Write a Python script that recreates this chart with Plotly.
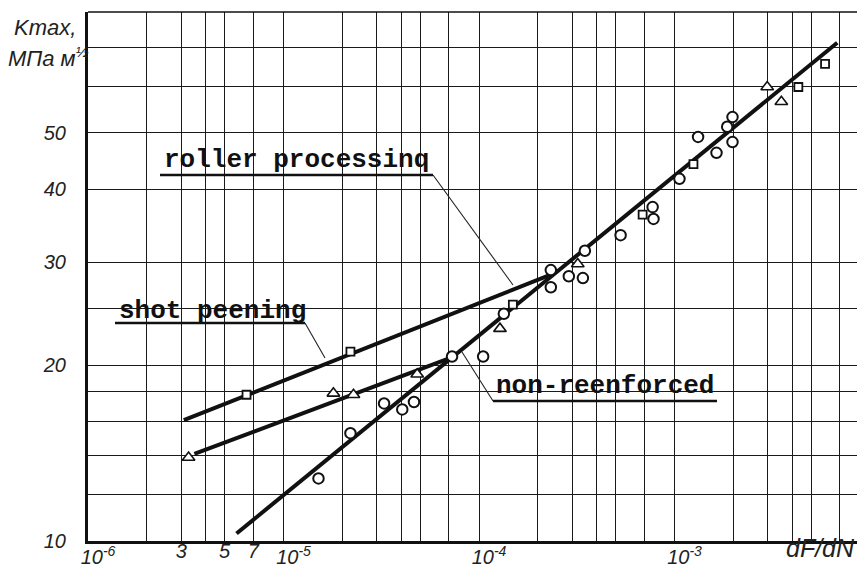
import numpy as np
import plotly.graph_objects as go

# ---------------- data ----------------
# open squares
sq_x = [6.47e-6, 2.20e-5, 1.49e-4, 6.87e-4, 1.25e-3, 4.30e-3, 5.89e-3]
sq_y = [17.8, 21.1, 25.4, 36.2, 44.2, 59.9, 65.6]
# open triangles
tri_x = [3.27e-6, 1.80e-5, 2.28e-5, 4.83e-5, 1.28e-4, 3.20e-4, 2.98e-3, 3.52e-3]
tri_y = [13.9, 17.9, 17.8, 19.3, 23.1, 29.8, 59.9, 56.5]
# open circles
circ_x = [1.51e-5, 2.20e-5, 3.27e-5, 4.05e-5, 4.65e-5, 7.28e-5, 1.05e-4, 1.34e-4,
          2.33e-4, 2.33e-4, 2.88e-4, 3.40e-4, 3.48e-4, 5.30e-4, 7.73e-4, 7.81e-4,
          1.06e-3, 1.32e-3, 1.64e-3, 1.86e-3, 1.98e-3, 1.98e-3]
circ_y = [12.8, 15.3, 17.2, 16.8, 17.3, 20.7, 20.7, 24.5,
          29.1, 27.2, 28.4, 28.2, 31.4, 33.4, 37.3, 35.6,
          41.7, 49.2, 46.2, 51.2, 53.2, 48.2]
# fitted lines
base_x = [5.75e-6, 6.8e-3]
base_y = [10.3, 71.3]
shot_x = [3.09e-6, 2.28e-4]
shot_y = [16.1, 28.5]
roll_x = [3.5e-6, 7.2e-5]
roll_y = [14.1, 20.6]

# axis grid / tick labels
x_grid = [m * 10.0 ** e for e in (-6, -5, -4, -3) for m in (1, 2, 3, 4, 5, 7)]
x_pow_vals = [1e-6, 1e-5, 1e-4, 1e-3]
x_pow_exp = ["-6", "-5", "-4", "-3"]
x_dig_vals = [3e-6, 5e-6, 7e-6]
x_dig_text = ["3", "5", "7"]
y_grid = [10, 12, 14, 16, 18, 20, 25, 30, 40, 50, 60, 70]
y_lab_vals = [10, 20, 30, 40, 50]
y_lab_text = ["10", "20", "30", "40", "50"]

labels = ["roller processinq", "shot peening", "non-reenforced"]

# ---------------- layout geometry ----------------
W, H = 865, 574          # window size
OFF = 8                  # default page margin of the html body
L, R, T, B = 88, 865, 12, 541   # plot area in window pixels


def px(x):
    return (x - L) / (R - L)


def py(y):
    return (B - y) / (B - T)


xr = [-6, -6 + (R - L) / 195.5]
yr = [1, 1 + (B - T) / 584.0]

x_pow_text = ["10<sup>%s</sup>" % e for e in x_pow_exp]
x_minor = [v for v in x_grid if v not in x_pow_vals]
y_minor = [v for v in y_grid if v not in y_lab_vals]

fig = go.Figure()

line_style = dict(color="#111111", width=4)
fig.add_trace(go.Scatter(x=base_x, y=base_y, mode="lines", line=line_style, hoverinfo="skip"))
fig.add_trace(go.Scatter(x=shot_x, y=shot_y, mode="lines", line=line_style, hoverinfo="skip"))
fig.add_trace(go.Scatter(x=roll_x, y=roll_y, mode="lines", line=line_style, hoverinfo="skip"))

fig.add_trace(go.Scatter(x=circ_x, y=circ_y, mode="markers",
                         marker=dict(symbol="circle", size=10.5, color="white",
                                     line=dict(color="#111111", width=2))))
fig.add_trace(go.Scatter(x=sq_x, y=sq_y, mode="markers",
                         marker=dict(symbol="square", size=8, color="white",
                                     line=dict(color="#111111", width=1.8))))
fig.add_trace(go.Scatter(x=tri_x, y=tri_y, mode="markers",
                         marker=dict(symbol="triangle-up", size=11, color="white",
                                     line=dict(color="#111111", width=1.6))))
# invisible trace to host the digit tick axis
fig.add_trace(go.Scatter(x=[x_dig_vals[0]], y=[y_grid[0]], xaxis="x2", mode="markers",
                         marker=dict(opacity=0), hoverinfo="skip"))

tick_font = dict(family="Liberation Sans", size=20, color="#222222", style="italic")
grid_style = dict(gridcolor="#1a1a1a", gridwidth=1.3)

fig.update_layout(
    width=W - OFF, height=H - OFF,
    margin=dict(l=L - OFF, r=0, t=T - OFF, b=H - B),
    paper_bgcolor="white", plot_bgcolor="white",
    showlegend=False,
    xaxis=dict(type="log", range=xr, tickmode="array", tickvals=x_pow_vals,
               ticktext=x_pow_text, showgrid=True, **grid_style,
               minor=dict(tickmode="array", tickvals=x_minor, showgrid=True, ticks="",
                          **grid_style),
               showline=True, linecolor="#111111", linewidth=3,
               ticks="", ticklabelstandoff=-4, ticklabelshift=10,
               tickfont=tick_font, zeroline=False, fixedrange=True, automargin=False),
    xaxis2=dict(type="log", range=xr, overlaying="x", anchor="y", side="bottom",
                tickmode="array", tickvals=x_dig_vals, ticktext=x_dig_text,
                showgrid=False, showline=False, zeroline=False, ticks="",
                ticklabelstandoff=-4, tickfont=tick_font, fixedrange=True, automargin=False),
    yaxis=dict(type="log", range=yr, tickmode="array", tickvals=y_lab_vals,
               ticktext=y_lab_text, showgrid=True, **grid_style,
               minor=dict(tickmode="array", tickvals=y_minor, showgrid=True, ticks="",
                          **grid_style),
               showline=True, linecolor="#111111", linewidth=3,
               ticks="", ticklabelstandoff=15,
               tickfont=tick_font, zeroline=False, fixedrange=True, automargin=False),
)

shapes = []
# top border
shapes.append(dict(type="line", xref="paper", yref="paper", x0=0, x1=1, y0=1, y1=1,
                   line=dict(color="#111111", width=1.6), layer="above"))

# label boxes, underlines and leader lines (window pixel positions)
boxes = [(156, 142, 438, 180), (112, 292, 308, 327), (488, 370, 720, 405)]
underlines = [((160, 175), (433, 175)), ((115, 323), (305, 323)), ((493, 401), (717, 401))]
leaders = [((433, 175), (513, 285)), ((305, 323), (325, 358)), ((493, 401), (462, 352))]
text_pos = [(163, 160), (118, 311), (495, 386)]

for (x0, y0, x1, y1) in boxes:
    shapes.append(dict(type="rect", xref="paper", yref="paper",
                       x0=px(x0), x1=px(x1), y0=py(y1), y1=py(y0),
                       fillcolor="white", line=dict(width=0), layer="between"))
for (a, b) in underlines:
    shapes.append(dict(type="line", xref="paper", yref="paper",
                       x0=px(a[0]), y0=py(a[1]), x1=px(b[0]), y1=py(b[1]),
                       line=dict(color="#111111", width=2.6), layer="above"))
for (a, b) in leaders:
    shapes.append(dict(type="line", xref="paper", yref="paper",
                       x0=px(a[0]), y0=py(a[1]), x1=px(b[0]), y1=py(b[1]),
                       line=dict(color="#222222", width=1.1), layer="above"))
fig.update_layout(shapes=shapes)

label_font = dict(family="Liberation Mono", size=26, color="#111111", weight="bold")
for txt, (tx, ty) in zip(labels, text_pos):
    fig.add_annotation(text=txt, xref="paper", yref="paper", x=px(tx), y=py(ty),
                       xanchor="left", yanchor="middle", showarrow=False,
                       font=label_font, borderpad=0)

title_font = dict(family="Liberation Sans", size=22, color="#222222", style="italic")
fig.add_annotation(text="Kmax,", xref="paper", yref="paper", x=px(45), y=py(28),
                   xanchor="center", yanchor="middle", showarrow=False, font=title_font)
fig.add_annotation(text="МПа м<sup>½</sup>",
                   xref="paper", yref="paper", x=px(48), y=py(57),
                   xanchor="center", yanchor="middle", showarrow=False, font=title_font)
fig.add_annotation(text="dF/dN", xref="paper", yref="paper", x=px(820), y=py(548),
                   xanchor="center", yanchor="middle", showarrow=False,
                   font=dict(family="Liberation Sans", size=25, color="#222222", style="italic"))

fig.write_html("out.html")
